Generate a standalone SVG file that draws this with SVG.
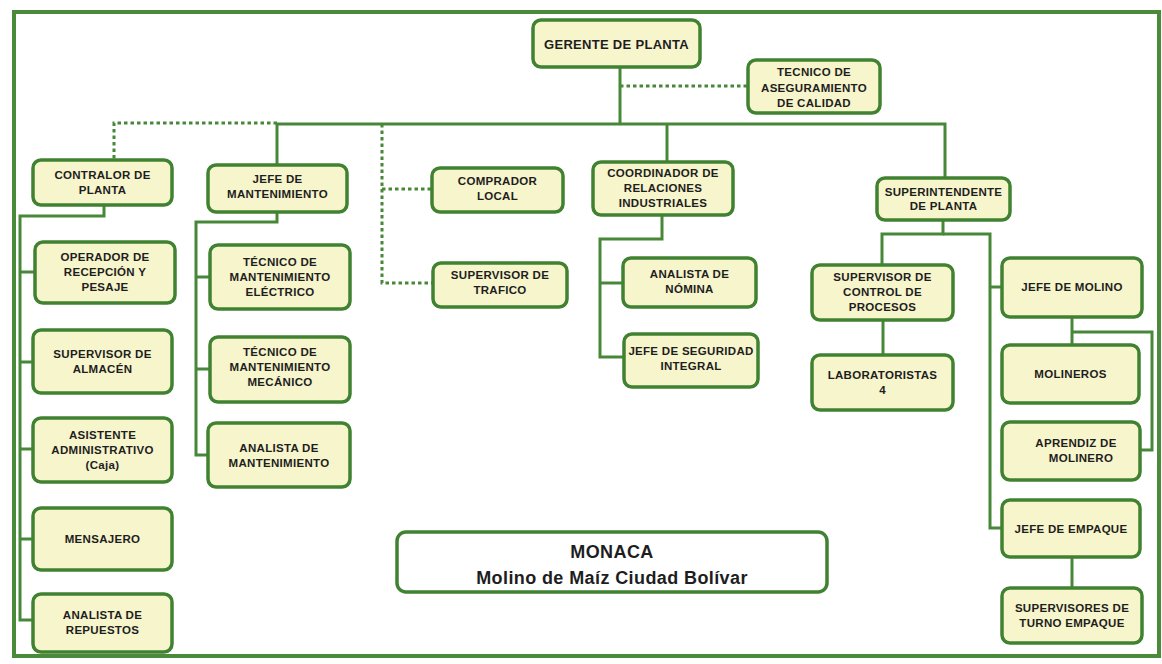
<svg xmlns="http://www.w3.org/2000/svg" width="1162" height="664" viewBox="0 0 1162 664">
<style>
.frame{fill:none;stroke:#4a8a3a;stroke-width:4}
.box rect{fill:#f6f5cb;stroke:#418232;stroke-width:3.5}
.box text{font-family:"Liberation Sans",Arial,sans-serif;font-weight:bold;font-size:11.5px;letter-spacing:0.3px;fill:#1e1e1e;text-anchor:middle}
.conn path{fill:none;stroke:#478838;stroke-width:3}
.conn path.dot{stroke-dasharray:3.5 3;stroke-width:3}
#gerente text{font-size:13px}
#titulo text{font-size:18px;letter-spacing:0.4px}
</style>
<rect width="1162" height="664" fill="#ffffff"/>
<rect class="frame" x="14" y="12" width="1145" height="644"/>
<g id="connectors" class="conn">
<path d="M620,67 V124"/>
<path d="M277,124 H945 V178"/>
<path d="M277,124 V165"/>
<path d="M667,124 V162"/>
<path d="M104,205 V216 H20 V620 H33"/>
<path d="M20,272 H35 M20,362 H33 M20,449 H33 M20,539 H33"/>
<path d="M277,212 V222 H196 V455 H208"/>
<path d="M196,277 H210 M196,369 H210"/>
<path d="M662,215 V239 H600 V357 H624"/>
<path d="M600,283 H623"/>
<path d="M943,220 V234 H882 V265"/>
<path d="M943,234 H990 V528 H1002"/>
<path d="M990,287 H1002"/>
<path d="M883,320 V355"/>
<path d="M1072,317 V345"/>
<path d="M1072,332 H1152 V450 H1140"/>
<path d="M1072,557 V588"/>
<path class="dot" d="M277,123 H114 V160"/>
<path class="dot" d="M620,86 H748"/>
<path class="dot" d="M382,124 V283 H433"/>
<path class="dot" d="M382,189 H432"/>
</g>
<g id="gerente" class="box"><rect x="533" y="20" width="167" height="47" rx="8"/><text x="616.5" y="48.5">GERENTE DE PLANTA</text></g>
<g id="tecnico-calidad" class="box"><rect x="748" y="60" width="132" height="53" rx="8"/><text x="814" y="76">TECNICO DE</text><text x="814" y="91.5">ASEGURAMIENTO</text><text x="814" y="107">DE CALIDAD</text></g>
<g id="contralor" class="box"><rect x="33" y="160" width="139" height="45" rx="8"/><text x="102.5" y="179">CONTRALOR DE</text><text x="102.5" y="194">PLANTA</text></g>
<g id="jefe-mantenimiento" class="box"><rect x="208" y="165" width="139" height="47" rx="8"/><text x="277.5" y="183">JEFE DE</text><text x="277.5" y="198">MANTENIMIENTO</text></g>
<g id="comprador" class="box"><rect x="432" y="168" width="131" height="44" rx="8"/><text x="497.5" y="185">COMPRADOR</text><text x="497.5" y="200">LOCAL</text></g>
<g id="trafico" class="box"><rect x="433" y="263" width="134" height="44" rx="8"/><text x="500" y="279">SUPERVISOR DE</text><text x="500" y="294">TRAFICO</text></g>
<g id="coordinador" class="box"><rect x="593" y="162" width="140" height="53" rx="8"/><text x="663" y="177">COORDINADOR DE</text><text x="663" y="192">RELACIONES</text><text x="663" y="207">INDUSTRIALES</text></g>
<g id="superintendente" class="box"><rect x="877" y="178" width="133" height="42" rx="8"/><text x="943.5" y="196">SUPERINTENDENTE</text><text x="943.5" y="210">DE PLANTA</text></g>
<g id="operador" class="box"><rect x="35" y="242" width="140" height="61" rx="8"/><text x="105" y="261">OPERADOR DE</text><text x="105" y="276">RECEPCIÓN Y</text><text x="105" y="291">PESAJE</text></g>
<g id="almacen" class="box"><rect x="33" y="330" width="139" height="63" rx="8"/><text x="102.5" y="358">SUPERVISOR DE</text><text x="102.5" y="373">ALMACÉN</text></g>
<g id="asistente" class="box"><rect x="33" y="418" width="139" height="64" rx="8"/><text x="102.5" y="439">ASISTENTE</text><text x="102.5" y="454">ADMINISTRATIVO</text><text x="102.5" y="469">(Caja)</text></g>
<g id="mensajero" class="box"><rect x="33" y="508" width="139" height="62" rx="8"/><text x="102.5" y="543">MENSAJERO</text></g>
<g id="repuestos" class="box"><rect x="33" y="594" width="139" height="58" rx="8"/><text x="102.5" y="619">ANALISTA DE</text><text x="102.5" y="634">REPUESTOS</text></g>
<g id="electrico" class="box"><rect x="210" y="245" width="140" height="64" rx="8"/><text x="280" y="266">TÉCNICO DE</text><text x="280" y="281">MANTENIMIENTO</text><text x="280" y="296">ELÉCTRICO</text></g>
<g id="mecanico" class="box"><rect x="210" y="337" width="140" height="65" rx="8"/><text x="280" y="356">TÉCNICO DE</text><text x="280" y="371">MANTENIMIENTO</text><text x="280" y="386">MECÁNICO</text></g>
<g id="analista-mant" class="box"><rect x="208" y="423" width="142" height="64" rx="8"/><text x="279" y="451.5">ANALISTA DE</text><text x="279" y="466.5">MANTENIMIENTO</text></g>
<g id="nomina" class="box"><rect x="623" y="258" width="133" height="49" rx="8"/><text x="689.5" y="278">ANALISTA DE</text><text x="689.5" y="293">NÓMINA</text></g>
<g id="seguridad" class="box"><rect x="624" y="334" width="134" height="53" rx="8"/><text x="691" y="355">JEFE DE SEGURIDAD</text><text x="691" y="370">INTEGRAL</text></g>
<g id="control-procesos" class="box"><rect x="812" y="265" width="141" height="55" rx="8"/><text x="882.5" y="281">SUPERVISOR DE</text><text x="882.5" y="296">CONTROL DE</text><text x="882.5" y="311">PROCESOS</text></g>
<g id="laboratoristas" class="box"><rect x="812" y="355" width="141" height="55" rx="8"/><text x="882.5" y="379">LABORATORISTAS</text><text x="882.5" y="394">4</text></g>
<g id="jefe-molino" class="box"><rect x="1002" y="258" width="140" height="59" rx="8"/><text x="1072" y="291">JEFE DE MOLINO</text></g>
<g id="molineros" class="box"><rect x="1002" y="345" width="137" height="58" rx="8"/><text x="1070.5" y="378">MOLINEROS</text></g>
<g id="aprendiz" class="box"><rect x="1002" y="422" width="138" height="58" rx="8"/><text x="1076" y="447">APRENDIZ DE</text><text x="1081" y="462">MOLINERO</text></g>
<g id="jefe-empaque" class="box"><rect x="1002" y="500" width="138" height="57" rx="8"/><text x="1071" y="533">JEFE DE EMPAQUE</text></g>
<g id="supervisores-turno" class="box"><rect x="1002" y="588" width="140" height="55" rx="8"/><text x="1072" y="612">SUPERVISORES DE</text><text x="1072" y="627">TURNO EMPAQUE</text></g>
<g id="titulo" class="box"><rect x="397" y="532" width="430" height="60" rx="9" style="fill:#ffffff"/><text x="612" y="557.5">MONACA</text><text x="612" y="583.5">Molino de Maíz Ciudad Bolívar</text></g>
</svg>
